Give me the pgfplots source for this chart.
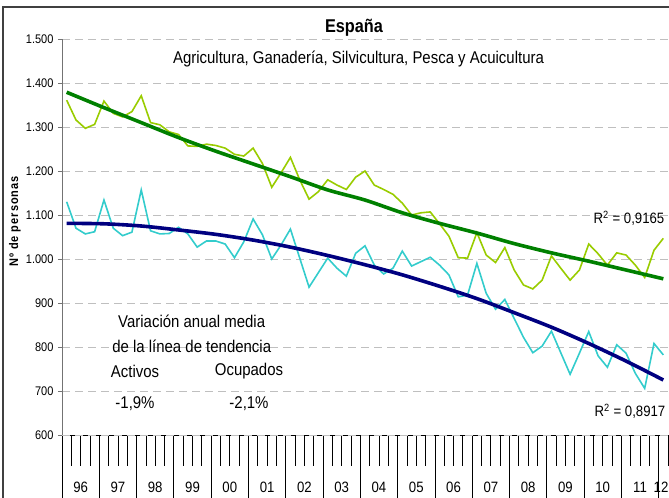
\documentclass[border=0pt]{standalone}
\usepackage{pgfplots}
\pgfplotsset{compat=1.18}
\usepackage{pgfplotstable}
\usepackage{fontspec}
\setmainfont[FakeStretch=0.88]{Liberation Sans}
\definecolor{act}{RGB}{153,204,0}
\definecolor{ocu}{RGB}{51,204,204}
\definecolor{tact}{RGB}{0,128,0}
\definecolor{tocu}{RGB}{0,0,128}
\pgfplotstableread{
x act ocu
0 1361 1130
1 1316 1070
2 1297 1057
3 1306 1062
4 1359 1134
5 1331 1070
6 1323 1053
7 1335 1061
8 1371 1157
9 1310 1064
10 1305 1057
11 1289 1058
12 1283 1072
13 1257 1057
14 1256 1027
15 1261 1041
16 1258 1041
17 1252 1034
18 1238 1003
19 1234 1039
20 1252 1091
21 1217 1055
22 1163 1000
23 1196 1032
24 1231 1068
25 1180 1002
26 1136 936
27 1153 969
28 1180 1002
29 1168 979
30 1158 961
31 1186 1013
32 1200 1030
33 1168 986
34 1158 966
35 1147 979
36 1127 1018
37 1100 984
38 1105 994
39 1107 1004
40 1080 986
41 1052 964
42 1003 914
43 1002 918
44 1060 990
45 1009 922
46 992 886
47 1026 908
48 975 865
49 941 822
50 932 787
51 952 802
52 1007 836
53 979 787
54 952 738
55 975 786
56 1034 835
57 1012 780
58 986 754
59 1014 805
60 1009 786
61 986 740
62 958 706
63 1020 808
64 1047 782
}\datos
\pgfplotstableread{
x tact tocu
0 1379 1081
4 1344 1080
8 1310 1075
12 1276 1066
16 1245 1056
20 1216 1043
24 1187 1027
28 1157 1008
32 1134 987
36 1105 964
40 1081 938
44 1059 910
48 1035 878
52 1014 845
56 995 808
60 975 768
64 955 725
}\tend
\begin{document}
\begin{tikzpicture}[yl/.style={font=\fontsize{15bp}{16bp}\selectfont, yshift=-52bp}]
\useasboundingbox (0,0) rectangle (669bp,498bp);
\draw[line width=1.5bp, black!75] (3bp,0) -- (3bp,491bp) -- (669bp,491bp);
% category axis (quarter ticks and year separators)
\begin{axis}[
  at={(62bp,63bp)}, anchor=south west,
  scale only axis, width=606bp, height=396bp,
  xmin=-0.5, xmax=64.5, ymin=600, ymax=1500,
  clip=false,
  axis x line*=bottom, axis y line=none,
  x axis line style={-, black, line width=1bp},
  tick align=outside,
  major tick length=31bp,
  xtick={-0.5,0.5,...,64.5}, xticklabels={},
  xtick style={black, line width=0.8bp},
  extra x ticks={-0.5,3.5,...,63.5},
  extra x tick labels={},
  extra x tick style={major tick length=63bp},
]
\node[yl] at (axis cs:1.5,600) {96};
\node[yl] at (axis cs:5.5,600) {97};
\node[yl] at (axis cs:9.5,600) {98};
\node[yl] at (axis cs:13.5,600) {99};
\node[yl] at (axis cs:17.5,600) {00};
\node[yl] at (axis cs:21.5,600) {01};
\node[yl] at (axis cs:25.5,600) {02};
\node[yl] at (axis cs:29.5,600) {03};
\node[yl] at (axis cs:33.5,600) {04};
\node[yl] at (axis cs:37.5,600) {05};
\node[yl] at (axis cs:41.5,600) {06};
\node[yl] at (axis cs:45.5,600) {07};
\node[yl] at (axis cs:49.5,600) {08};
\node[yl] at (axis cs:53.5,600) {09};
\node[yl] at (axis cs:57.5,600) {10};
\node[yl] at (axis cs:61.5,600) {11};
\node[yl, inner xsep=0pt] at (axis cs:63.75,600) {12};
\end{axis}
% data axis
\begin{axis}[
  at={(62bp,63bp)}, anchor=south west,
  scale only axis, width=606bp, height=396bp,
  xmin=-0.5, xmax=64.5, ymin=600, ymax=1500,
  clip=false,
  axis x line=none, axis y line*=left,
  y axis line style={-, black!55, line width=1bp},
  ytick={600,700,...,1500},
  yticklabels={600,700,800,900,1.000,1.100,1.200,1.300,1.400,1.500},
  yticklabel style={font=\fontsize{12.5bp}{14bp}\selectfont, xshift=-1bp},
  ymajorgrids,
  y grid style={dash pattern=on 8bp off 5bp, color=black!25, line width=0.9bp},
  tick align=outside,
  major tick length=4bp,
  ytick style={black!55, line width=0.8bp},
  xtick=\empty,
]
\addplot[act, line width=1.6bp, mark=none] table[x=x, y=act] {\datos};
\addplot[ocu, line width=1.6bp, mark=none] table[x=x, y=ocu] {\datos};
\addplot[tact, line width=3.6bp, mark=none, smooth] table[x=x, y=tact] {\tend};
\addplot[tocu, line width=3.6bp, mark=none, smooth] table[x=x, y=tocu] {\tend};
\end{axis}
\node[font=\fontsize{18.5bp}{20bp}\selectfont\bfseries] at (354bp,470bp) {España};
\node[font=\fontsize{17bp}{18bp}\selectfont] at (358.5bp,439bp) {Agricultura, Ganadería, Silvicultura, Pesca y Acuicultura};
\node[font=\fontsize{17bp}{18bp}\selectfont] at (191.7bp,177bp) {Variación anual media};
\node[font=\fontsize{17bp}{18bp}\selectfont] at (191.7bp,152bp) {de la línea de tendencia};
\node[font=\fontsize{17bp}{18bp}\selectfont] at (135bp,127bp) {Activos};
\node[font=\fontsize{17bp}{18bp}\selectfont] at (249bp,127bp) {Ocupados};
\node[font=\fontsize{17bp}{18bp}\selectfont] at (135bp,94bp) {-1,9\%};
\node[font=\fontsize{17bp}{18bp}\selectfont] at (249bp,94bp) {-2,1\%};
\node[font=\fontsize{15bp}{16bp}\selectfont] at (629bp,280bp) {R\textsuperscript{2} = 0,9165};
\node[font=\fontsize{15bp}{16bp}\selectfont] at (630bp,87bp) {R\textsuperscript{2} = 0,8917};
\node[rotate=90, font=\fontsize{12.5bp}{14bp}\selectfont\bfseries\addfontfeature{LetterSpace=8}] at (15bp,276.5bp) {Nº de personas};
\end{tikzpicture}
\end{document}
